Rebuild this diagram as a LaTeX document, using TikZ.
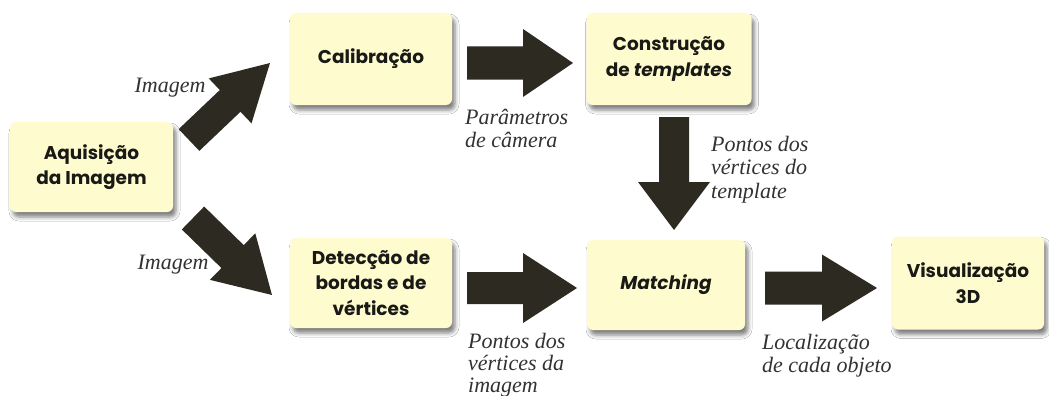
\documentclass[tikz,border=0pt]{standalone}
\usepackage{fontspec}
\setmainfont{Liberation Serif}
\newfontfamily\boxfont{Poppins}
\newfontfamily\lblfont{Liberation Serif}
\usetikzlibrary{shadows.blur,calc}
\definecolor{boxfill}{RGB}{254,251,206}
\definecolor{arrowdark}{RGB}{45,42,34}
\definecolor{textdark}{RGB}{25,25,22}
\definecolor{labelgray}{RGB}{50,50,48}
\newcommand\blockarr[5]{%
  \path let \p1=(#1), \p2=(#2) in \pgfextra{%
    \pgfmathsetmacro\BAangtmp{atan2(\y2-\y1,\x2-\x1)}%
    \pgfmathsetmacro\BAlentmp{veclen(\x2-\x1,\y2-\y1)}%
    \xdef\BAang{\BAangtmp}\xdef\BAlen{\BAlentmp}\xdef\BAx{\x1}\xdef\BAy{\y1}};
  \begin{scope}[shift={(\BAx,\BAy)}, rotate=\BAang, x=1pt, y=1pt]
    \fill[arrowdark] (0,-#3/2) -- ({\BAlen-#5},-#3/2) -- ({\BAlen-#5},-#4/2) -- (\BAlen,0)
      -- ({\BAlen-#5},#4/2) -- ({\BAlen-#5},#3/2) -- (0,#3/2) -- cycle;
  \end{scope}}
\begin{document}
\begin{tikzpicture}[x=1pt,y=-1pt,
  box/.style={fill=boxfill, rounded corners=6pt,
    blur shadow={shadow xshift=3pt,shadow yshift=-5pt,shadow blur radius=4pt,shadow opacity=50},
    align=center, font=\boxfont\bfseries\fontsize{18.5}{25.5}\selectfont, text=textdark, inner sep=0pt},
  lbl/.style={font=\lblfont\itshape\fontsize{22}{23.5}\selectfont, align=left, inner sep=0pt, text=labelgray}]
\useasboundingbox (0,0) rectangle (1049,396);
\fill[white] (0,0) rectangle (1049,396);
% boxes
\node[box, minimum width=163, minimum height=90] (acq) at (91.5,167) {Aquisição\\da Imagem};
\node[box, minimum width=162, minimum height=92] (cal) at (371,59) {Calibração};
\node[box, minimum width=165, minimum height=92] (con) at (669,59) {Construção\\de \textit{templates}};
\node[box, minimum width=162, minimum height=90] (det) at (371,283) {Detecção de\\bordas e de\\vértices};
\node[box, minimum width=158, minimum height=90] (mat) at (666,285) {\textit{Matching}};
\node[box, minimum width=152, minimum height=93] (vis) at (968,283) {Visualização\\3D};
% arrow end points
\coordinate (a1s) at (189,140); \coordinate (a1e) at (270,63);
\coordinate (a2s) at (193,218); \coordinate (a2e) at (272,295);
\coordinate (a3s) at (467,63);  \coordinate (a3e) at (573,63);
\coordinate (a4s) at (674,117); \coordinate (a4e) at (674,230);
\coordinate (a5s) at (467,288); \coordinate (a5e) at (577,288);
\coordinate (a6s) at (765,288); \coordinate (a6e) at (877,288);
\blockarr{a1s}{a1e}{30}{62}{55}
\blockarr{a2s}{a2e}{32}{65}{55}
\blockarr{a3s}{a3e}{33}{68}{50}
\blockarr{a4s}{a4e}{30}{72}{48}
\blockarr{a5s}{a5e}{32}{70}{54}
\blockarr{a6s}{a6e}{33}{67}{55}
% labels
\node[lbl] (l1) at (170,88) {Imagem};
\node[lbl] (l2) at (173,265) {Imagem};
\node[lbl, anchor=north west] (l3) at (465,109) {Parâmetros\\de câmera};
\node[lbl, anchor=north west] (l4) at (711,136) {Pontos dos\\vértices do\\template};
\node[lbl, anchor=north west, font=\lblfont\itshape\fontsize{22}{22}\selectfont] (l5) at (468,333) {Pontos dos\\vértices da\\imagem};
\node[lbl, anchor=north west] (l6) at (762,334) {Localização\\de cada objeto};
\end{tikzpicture}
\end{document}
